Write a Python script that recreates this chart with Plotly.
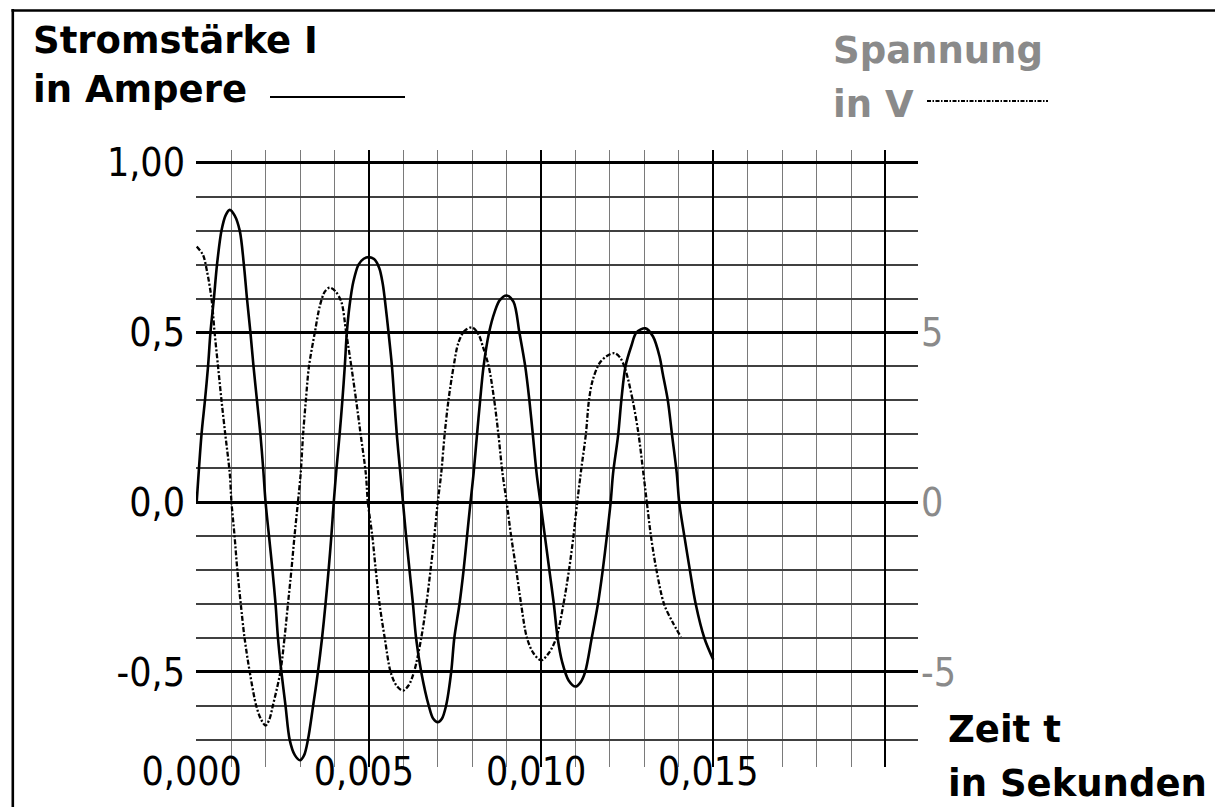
import plotly.graph_objects as go

# ---------------- data ----------------
# Current I in A (solid line), time in ms
t_current_ms = [0.000, 0.140, 0.240, 0.330, 0.400, 0.500, 0.590, 0.720, 0.840, 0.960,
                1.100, 1.250, 1.370, 1.460, 1.560, 1.650, 1.750, 1.850, 1.930, 2.000,
                2.100, 2.200, 2.290, 2.360, 2.460, 2.580, 2.700, 2.850, 3.000, 3.120,
                3.230, 3.380, 3.520, 3.640, 3.740, 3.830, 3.910, 3.980, 4.060, 4.150,
                4.230, 4.300, 4.360, 4.440, 4.550, 4.700, 4.850, 5.000, 5.150, 5.300,
                5.400, 5.460, 5.570, 5.670, 5.740, 5.810, 5.900, 5.990, 6.080, 6.180,
                6.280, 6.370, 6.520, 6.740, 6.870, 7.000, 7.120, 7.240, 7.390, 7.480,
                7.630, 7.750, 7.850, 7.950, 8.040, 8.140, 8.230, 8.330, 8.490, 8.650,
                8.800, 9.000, 9.200, 9.370, 9.540, 9.660, 9.760, 9.870, 9.980, 10.110,
                10.240, 10.370, 10.480, 10.610, 10.800, 11.000, 11.150, 11.280, 11.470, 11.650,
                11.790, 11.910, 12.020, 12.090, 12.240, 12.330, 12.450, 12.620, 12.770, 13.030,
                13.250, 13.440, 13.530, 13.680, 13.800, 13.940, 14.010, 14.160, 14.320, 14.490,
                14.740, 15.000]
current_A = [0.000, 0.200, 0.300, 0.400, 0.500, 0.600, 0.700, 0.800, 0.845, 0.861,
             0.845, 0.800, 0.700, 0.600, 0.500, 0.400, 0.300, 0.200, 0.100, 0.000,
             -0.100, -0.200, -0.300, -0.400, -0.500, -0.600, -0.700, -0.745, -0.760, -0.745,
             -0.700, -0.600, -0.500, -0.400, -0.300, -0.200, -0.100, 0.000, 0.100, 0.200,
             0.300, 0.400, 0.500, 0.580, 0.650, 0.700, 0.717, 0.722, 0.716, 0.690,
             0.645, 0.600, 0.500, 0.400, 0.300, 0.200, 0.100, 0.000, -0.100, -0.200,
             -0.300, -0.400, -0.500, -0.600, -0.638, -0.648, -0.638, -0.600, -0.500, -0.400,
             -0.300, -0.200, -0.100, 0.000, 0.085, 0.200, 0.300, 0.400, 0.500, 0.560,
             0.595, 0.609, 0.590, 0.500, 0.400, 0.300, 0.200, 0.085, 0.000, -0.100,
             -0.200, -0.300, -0.400, -0.470, -0.525, -0.543, -0.530, -0.500, -0.400, -0.300,
             -0.200, -0.100, 0.000, 0.085, 0.200, 0.300, 0.400, 0.460, 0.500, 0.512,
             0.488, 0.429, 0.380, 0.300, 0.200, 0.085, 0.000, -0.100, -0.200, -0.300,
             -0.400, -0.464]

# Voltage U in V (dash-dot line), time in ms
t_voltage_ms = [0.000, 0.180, 0.300, 0.430, 0.520, 0.620, 0.720, 0.830, 0.960, 1.010,
                1.100, 1.180, 1.280, 1.390, 1.540, 1.730, 1.870, 2.000, 2.110, 2.210,
                2.430, 2.550, 2.650, 2.750, 2.840, 2.940, 3.020, 3.090, 3.170, 3.260,
                3.430, 3.580, 3.720, 3.860, 4.020, 4.200, 4.340, 4.490, 4.630, 4.760,
                4.910, 4.970, 5.100, 5.200, 5.310, 5.460, 5.630, 5.800, 5.990, 6.150,
                6.310, 6.520, 6.670, 6.790, 6.900, 7.000, 7.100, 7.200, 7.310, 7.460,
                7.600, 7.780, 8.000, 8.180, 8.310, 8.480, 8.640, 8.760, 8.880, 9.000,
                9.130, 9.280, 9.420, 9.590, 9.780, 10.000, 10.220, 10.440, 10.650, 10.810,
                10.940, 11.050, 11.170, 11.300, 11.390, 11.500, 11.700, 11.900, 12.130, 12.300,
                12.450, 12.660, 12.830, 12.970, 13.070, 13.190, 13.350, 13.570, 13.800, 14.060]
voltage_V = [7.53, 7.29, 6.80, 6.00, 5.00, 4.00, 3.00, 2.00, 0.85, 0.00,
             -1.00, -2.00, -3.00, -4.00, -5.00, -6.00, -6.40, -6.58, -6.40, -6.00,
             -5.00, -4.00, -3.00, -2.00, -1.00, 0.00, 0.85, 2.00, 3.00, 4.00,
             5.00, 5.80, 6.20, 6.32, 6.22, 5.90, 5.00, 4.00, 3.00, 2.00,
             0.85, 0.00, -1.00, -2.00, -3.00, -4.00, -5.00, -5.40, -5.55, -5.40,
             -5.00, -4.00, -3.00, -2.00, -1.00, 0.00, 0.85, 2.00, 3.00, 4.00,
             4.70, 5.05, 5.15, 4.95, 4.58, 4.00, 3.00, 2.00, 0.85, 0.00,
             -1.00, -2.00, -3.00, -4.00, -4.45, -4.66, -4.45, -4.00, -3.00, -2.00,
             -1.00, 0.00, 1.00, 2.00, 3.00, 3.60, 4.10, 4.30, 4.39, 4.25,
             3.90, 3.00, 2.00, 0.85, 0.00, -1.00, -2.00, -3.00, -3.50, -3.97]

x_tickvals = [0.0, 0.005, 0.010, 0.015, 0.020]
x_ticktext = ["0,000", "0,005", "0,010", "0,015", ""]
y_tickvals = [-0.5, 0.0, 0.5, 1.0]
y_ticktext = ["-0,5", "0,0", "0,5", "1,00"]
y2_tickvals = [-5, 0, 5]
y2_ticktext = ["-5", "0", "5"]

t_current = [v / 1000.0 for v in t_current_ms]
t_voltage = [v / 1000.0 for v in t_voltage_ms]

# ---------------- layout geometry ----------------
OFF = 8                      # page body margin of the html page
W, H = 1223 - OFF, 807 - OFF
# plot area in reference-picture pixels
PL, PR, PT, PB = 196.0, 918.0, 150.0, 766.7
X_RANGE = [-0.00002, 0.020944]
Y_RANGE = [-0.78, 1.0374]
GRID_BOTTOM = -0.7257
Y2_RANGE = [Y_RANGE[0] * 10, Y_RANGE[1] * 10]

TICKFONT = "DejaVu Sans Condensed, DejaVu Sans, sans-serif"
TITLEFONT = "DejaVu Sans, sans-serif"
GRAY = "#8a8a8a"


def px(xp):
    return (xp - PL) / (PR - PL)


def py(yp):
    return (PB - yp) / (PB - PT)


fig = go.Figure()
fig.add_trace(go.Scatter(x=t_current, y=current_A, mode="lines",
                         line=dict(color="black", width=2.6, shape="spline", smoothing=0.9),
                         showlegend=False, hoverinfo="skip"))
fig.add_trace(go.Scatter(x=t_voltage, y=voltage_V, mode="lines", yaxis="y2",
                         line=dict(color="black", width=2.3, shape="spline", smoothing=0.9,
                                   dash="5px,2px,2px,2px"),
                         showlegend=False, hoverinfo="skip"))

annotations = []


def label(text, x, y, color="black", size=37):
    annotations.append(dict(text="<b>%s</b>" % text, xref="paper", yref="paper",
                            x=px(x), y=py(y), xanchor="left", yanchor="middle",
                            showarrow=False, font=dict(family=TITLEFONT, size=size, color=color)))


label("Stromstärke I", 31, 41)
label("in Ampere", 31, 90)
label("Spannung", 831, 51, GRAY)
label("in V", 831, 105, GRAY)
label("Zeit t", 946, 729)
label("in Sekunden", 946, 783)

shapes = [
    # hide the grid below its lowest line (curve may pass there)
    dict(type="rect", xref="paper", yref="y", x0=-0.004, x1=1.0, y0=Y_RANGE[0] - 0.01,
         y1=GRID_BOTTOM, fillcolor="white", line=dict(width=0), layer="between"),
    # figure frame (left and top edges)
    dict(type="line", xref="paper", yref="paper", x0=px(12.8), x1=px(12.8), y0=py(9), y1=py(830),
         line=dict(color="black", width=2.6)),
    dict(type="line", xref="paper", yref="paper", x0=px(11.5), x1=px(1240), y0=py(10.5), y1=py(10.5),
         line=dict(color="black", width=2.6)),
    # legend samples
    dict(type="line", xref="paper", yref="paper", x0=px(270), x1=px(405), y0=py(97), y1=py(97),
         line=dict(color="black", width=2)),
    dict(type="line", xref="paper", yref="paper", x0=px(927), x1=px(1048), y0=py(101), y1=py(101),
         line=dict(color="black", width=2, dash="4px,1.5px,1.5px,1.5px")),
]

fig.update_layout(
    template="none",
    width=W, height=H,
    margin=dict(l=PL - OFF, r=W - (PR - OFF), t=PT - OFF, b=H - (PB - OFF), pad=0),
    paper_bgcolor="white", plot_bgcolor="white",
    showlegend=False,
    font=dict(family=TICKFONT, size=39, color="black"),
    xaxis=dict(range=X_RANGE, tickmode="array", tickvals=x_tickvals, ticktext=x_ticktext,
               showgrid=True, gridcolor="black", gridwidth=2.4, zeroline=False,
               showline=False, ticks="", ticklabelstandoff=-22, ticklabelshift=-5,
               automargin=False,
               tickfont=dict(family=TICKFONT, size=39, color="black"),
               minor=dict(dtick=0.001, tick0=0, showgrid=True, gridcolor="#7a7a7a", gridwidth=1.4),
               fixedrange=True),
    yaxis=dict(range=Y_RANGE, tickmode="array", tickvals=y_tickvals, ticktext=y_ticktext,
               showgrid=True, gridcolor="black", gridwidth=3, zeroline=False,
               showline=False, ticks="", ticklabelstandoff=10, automargin=False,
               tickfont=dict(family=TICKFONT, size=39, color="black"),
               minor=dict(dtick=0.1, tick0=0, showgrid=True, gridcolor="#404040", gridwidth=1.6),
               fixedrange=True),
    yaxis2=dict(range=Y2_RANGE, overlaying="y", side="right", tickmode="array",
                tickvals=y2_tickvals, ticktext=y2_ticktext, showgrid=False, zeroline=False,
                showline=False, ticks="", ticklabelstandoff=2, automargin=False,
                tickfont=dict(family=TICKFONT, size=39, color=GRAY), fixedrange=True),
    annotations=annotations,
    shapes=shapes,
)

fig.write_html("out.html", config={"displayModeBar": False})
